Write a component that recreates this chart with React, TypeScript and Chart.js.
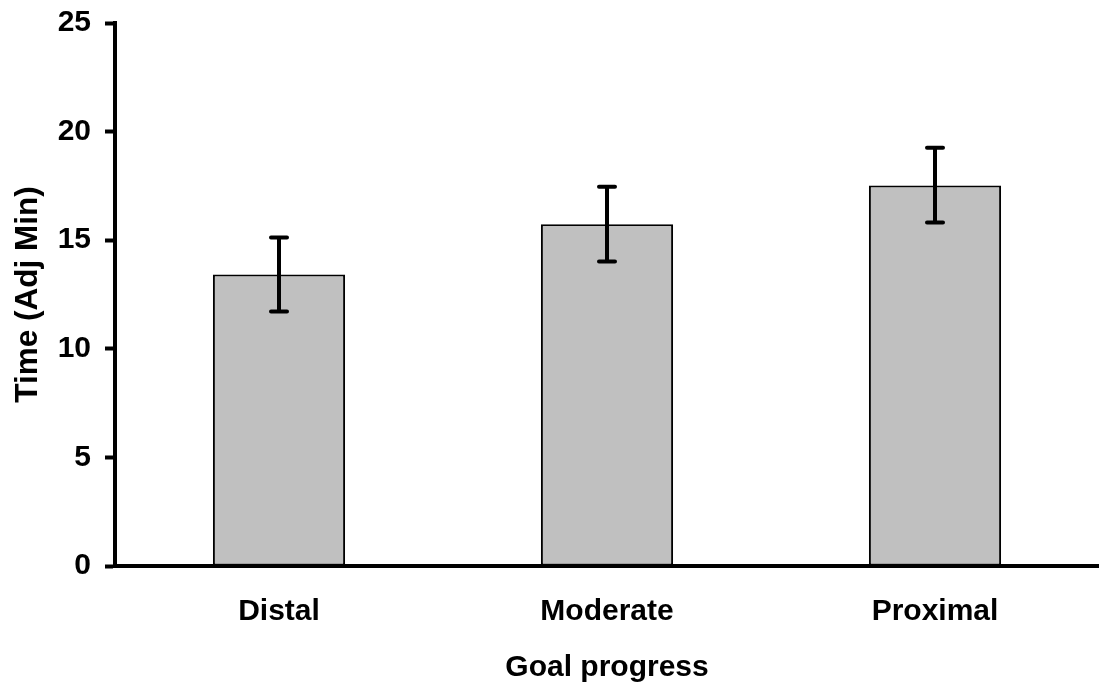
import React, { useEffect, useRef } from "react";
import { Chart, registerables } from "chart.js";

Chart.register(...registerables);

const categories = ["Distal", "Moderate", "Proximal"];
const meanValues = [13.42, 15.74, 17.52];
const errorLow = [11.72, 14.02, 15.82];
const errorHigh = [15.12, 17.46, 19.26];
const yTicks = [0, 5, 10, 15, 20, 25];
const xTitle = "Goal progress";
const yTitle = "Time (Adj Min)";

const FONT = '"Liberation Sans", Arial, Helvetica, sans-serif';

const errorBarPlugin = {
  id: "errorBars",
  afterDatasetsDraw(chart: any) {
    const meta = chart.getDatasetMeta(0);
    const yScale = chart.scales.y;
    const ctx = chart.ctx;
    ctx.save();
    ctx.strokeStyle = "#000000";
    ctx.lineWidth = 4;
    ctx.lineCap = "round";
    meta.data.forEach((bar: any, i: number) => {
      const x = bar.x;
      const yl = yScale.getPixelForValue(errorLow[i]);
      const yh = yScale.getPixelForValue(errorHigh[i]);
      const cap = 8;
      ctx.beginPath();
      ctx.moveTo(x, yl);
      ctx.lineTo(x, yh);
      ctx.moveTo(x - cap, yl);
      ctx.lineTo(x + cap, yl);
      ctx.moveTo(x - cap, yh);
      ctx.lineTo(x + cap, yh);
      ctx.stroke();
    });
    ctx.restore();
  },
};

export default function App() {
  const canvasRef = useRef<HTMLCanvasElement | null>(null);

  useEffect(() => {
    if (!canvasRef.current) return;
    const chart = new Chart(canvasRef.current, {
      type: "bar",
      data: {
        labels: categories,
        datasets: [
          {
            data: meanValues,
            backgroundColor: "#C0C0C0",
            borderColor: "#000000",
            borderWidth: 2,
            borderSkipped: false,
            categoryPercentage: 1,
            barPercentage: 0.403,
          },
        ],
      },
      options: {
        animation: false,
        responsive: false,
        maintainAspectRatio: false,
        layout: { padding: { top: 23, left: 0, right: 0, bottom: 0 } },
        plugins: {
          legend: { display: false },
          tooltip: { enabled: false },
        },
        scales: {
          x: {
            offset: true,
            grid: { display: false, drawTicks: false },
            border: { display: true, color: "#000000", width: 4 },
            ticks: {
              color: "#000000",
              font: { family: FONT, size: 30, weight: "bold" },
              padding: 28,
            },
            title: {
              display: true,
              text: xTitle,
              color: "#000000",
              font: { family: FONT, size: 30, weight: "bold" },
              padding: { top: 0, bottom: 2 },
            },
            afterFit(scale: any) {
              scale.height = 122;
              scale.paddingLeft = 0;
              scale.paddingRight = 0;
            },
          },
          y: {
            min: 0,
            max: 25,
            afterBuildTicks(scale: any) {
              scale.ticks = yTicks.map((v) => ({ value: v }));
            },
            grid: {
              display: true,
              drawOnChartArea: false,
              drawTicks: true,
              tickLength: 10,
              tickWidth: 4,
              tickColor: "#000000",
              color: "#000000",
            },
            border: { display: true, color: "#000000", width: 4 },
            ticks: {
              color: "#000000",
              font: { family: FONT, size: 30, weight: "bold" },
              padding: 14,
            },
            title: {
              display: true,
              text: yTitle,
              color: "#000000",
              font: { family: FONT, size: 31.5, weight: "bold" },
              padding: { top: 9, bottom: 0 },
            },
            afterFit(scale: any) {
              scale.width = 115;
              scale.paddingTop = 0;
              scale.paddingBottom = 0;
            },
          },
        },
      },
      plugins: [errorBarPlugin],
    });
    return () => chart.destroy();
  }, []);

  return (
    <div style={{ position: "fixed", left: 0, top: 0, width: 1099, height: 688, background: "#ffffff" }}>
      <canvas ref={canvasRef} width={1099} height={688} style={{ display: "block" }} />
    </div>
  );
}
